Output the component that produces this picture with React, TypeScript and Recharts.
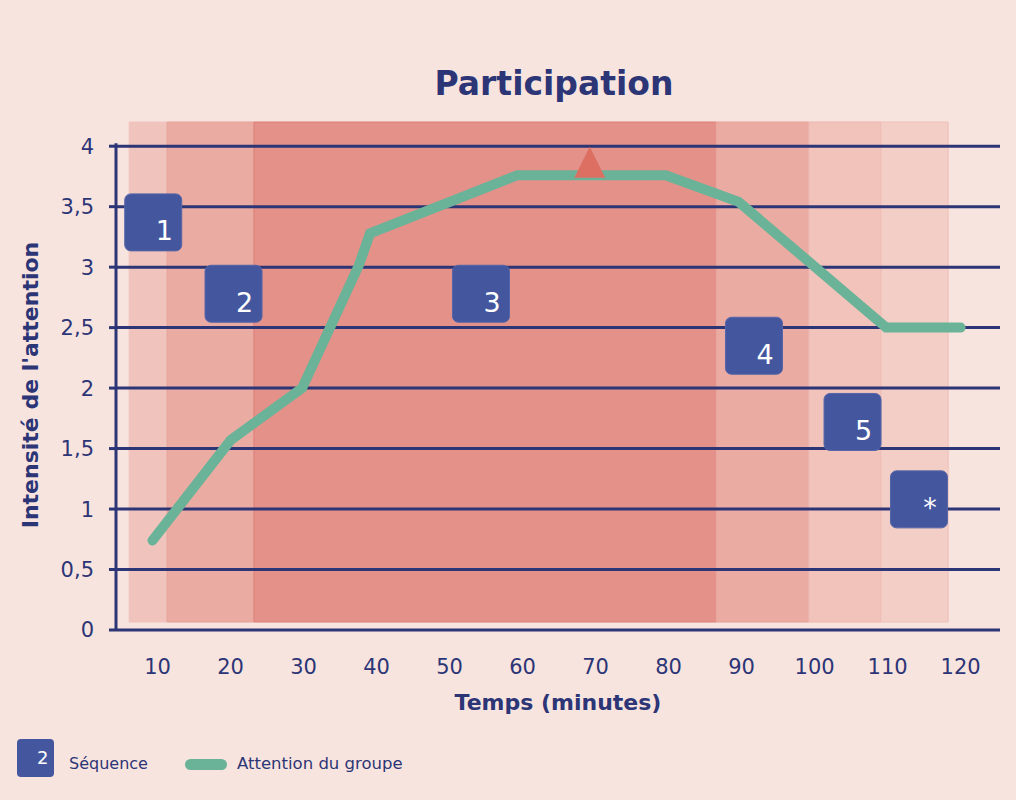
import {
  ComposedChart, Line, Scatter, XAxis, YAxis,
  ReferenceArea, ReferenceLine, Label,
} from 'recharts';

const FONT = '"DejaVu Sans", Verdana, sans-serif';
const NAVY = '#2c3576';
const BOX = '#44579e';
const GREEN = '#6bb398';
const BG = '#f8e4df';

const X_MIN = 4.3;
const X_MAX = 125.4;
const xTicks = [10, 20, 30, 40, 50, 60, 70, 80, 90, 100, 110, 120];
const yTicks = [0, 0.5, 1, 1.5, 2, 2.5, 3, 3.5, 4];
const gridLevels = [0.5, 1, 1.5, 2, 2.5, 3, 3.5, 4];

// attention du groupe
const attentionX = [9.3, 20, 29.8, 37.6, 39.1, 59.3, 79.6, 89.6, 109.8, 120];
const attentionY = [0.74, 1.57, 2.0, 3.02, 3.28, 3.76, 3.76, 3.54, 2.5, 2.5];

// séquences
const sequenceLabels = ['1', '2', '3', '4', '5', '*'];
const sequenceX = [9.4, 20.4, 54.3, 91.7, 105.2, 114.3];
const sequenceY = [3.37, 2.78, 2.78, 2.35, 1.72, 1.08];

// bandes de fond
const bandEdges = [6.1, 11.3, 23.2, 86.5, 99.2, 109.1, 118.3];
const bandColors = ['#f0c4bc', '#eaaba2', '#e39189', '#eaaba2', '#f1c3bb', '#f3cec7'];
const bandStrokes = ['#f0c4bc', '#e6a199', '#df7f77', '#e6a199', '#ecb5ad', '#efc0b8'];
const bandBottom = 0.066;
const bandTop = 4.2;

const peakX = [69.2];
const peakY = [3.74];

const lineData = attentionX.map((x, i) => ({ x, y: attentionY[i] }));
const seqData = sequenceX.map((x, i) => ({ x, y: sequenceY[i], label: sequenceLabels[i] }));
const peakData = peakX.map((x, i) => ({ x, y: peakY[i] }));

const SeqBox = (props: { cx?: number; cy?: number; payload?: { label: string } }) => {
  const { cx = 0, cy = 0, payload } = props;
  return (
    <g>
      <rect x={cx - 28.5} y={cy - 28.5} width={57} height={57} rx={6} fill={BOX} stroke="#5566a8" strokeWidth={1} />
      <text x={cx + 11} y={cy + 18} textAnchor="middle"
        style={{ fontSize: 27, fill: '#fff', fontFamily: FONT, fontWeight: 400 }}>
        {payload?.label}
      </text>
    </g>
  );
};

const Peak = (props: { cx?: number; cy?: number }) => {
  const { cx = 0, cy = 0 } = props;
  return <polygon points={`${cx},${cy - 31} ${cx - 15.5},${cy} ${cx + 15.5},${cy}`} fill="#dc6f62" />;
};

export default function App() {
  return (
    <div style={{ position: 'absolute', left: 0, top: 0, width: 1016, height: 800, background: BG, fontFamily: FONT }}>
      <div style={{
        position: 'absolute', left: 0, width: 1108, top: 63, textAlign: 'center',
        fontSize: 33, fontWeight: 700, color: NAVY, lineHeight: '42px',
      }}>
        Participation
      </div>
      <ComposedChart width={1016} height={800} data={lineData}
        margin={{ top: 122, right: 16, bottom: 70, left: 0 }}>
        {bandColors.map((c, i) => (
          <ReferenceArea key={i} x1={bandEdges[i]} x2={bandEdges[i + 1]} y1={bandBottom} y2={bandTop}
            fill={c} fillOpacity={1} stroke={bandStrokes[i]} strokeWidth={1} ifOverflow="visible" />
        ))}
        <XAxis type="number" dataKey="x" domain={[X_MIN, X_MAX]} ticks={xTicks} allowDataOverflow
          height={100} tickLine={false} tickSize={6} tickMargin={23}
          axisLine={{ stroke: NAVY, strokeWidth: 3 }}
          tick={{ fill: NAVY, fontSize: 21, fontFamily: FONT }}>
          <Label value="Temps (minutes)" position="insideTop" offset={64}
            style={{ fill: NAVY, fontSize: 22, fontWeight: 700, fontFamily: FONT }} />
        </XAxis>
        <YAxis type="number" domain={[0, bandTop]} ticks={yTicks} width={116}
          axisLine={false} tickSize={7} tickMargin={15}
          tickLine={{ stroke: NAVY, strokeWidth: 3 }}
          tickFormatter={(v) => String(v).replace('.', ',')}
          tick={{ fill: NAVY, fontSize: 21, fontFamily: FONT }}>
          <Label content={({ viewBox }) => {
            const vb = viewBox as { x: number; y: number; height: number };
            const cx = vb.x + 30;
            const cy = vb.y + vb.height / 2 + 9;
            return (
              <text x={cx} y={cy} transform={`rotate(-90, ${cx}, ${cy})`} textAnchor="middle"
                dominantBaseline="central"
                style={{ fill: NAVY, fontSize: 22, fontWeight: 700, fontFamily: FONT }}>
                Intensité de l'attention
              </text>
            );
          }} />
        </YAxis>
        {gridLevels.map((v) => (
          <ReferenceLine key={v} y={v} stroke={NAVY} strokeWidth={3} />
        ))}
        <ReferenceLine segment={[{ x: X_MIN, y: 0 }, { x: X_MIN, y: 4.025 }]} stroke={NAVY} strokeWidth={3} />
        <Line type="linear" dataKey="y" stroke={GREEN} strokeWidth={10} dot={false}
          strokeLinecap="round" isAnimationActive={false} />
        <Scatter data={peakData} dataKey="y" shape={<Peak />} isAnimationActive={false} />
        <Scatter data={seqData} dataKey="y" shape={<SeqBox />} isAnimationActive={false} />
      </ComposedChart>
      <div style={{ position: 'absolute', left: 17, top: 739, width: 37, height: 38, background: BOX, borderRadius: 4 }}>
        <span style={{ position: 'absolute', left: 20, top: 8, fontSize: 18, color: '#fff', lineHeight: '22px' }}>2</span>
      </div>
      <span style={{ position: 'absolute', left: 69, top: 754, fontSize: 16, color: NAVY, lineHeight: '20px' }}>
        Séquence
      </span>
      <div style={{ position: 'absolute', left: 185, top: 759, width: 42, height: 11, background: GREEN, borderRadius: 6 }} />
      <span style={{ position: 'absolute', left: 237, top: 754, fontSize: 16.5, color: NAVY, lineHeight: '20px' }}>
        Attention du groupe
      </span>
    </div>
  );
}
